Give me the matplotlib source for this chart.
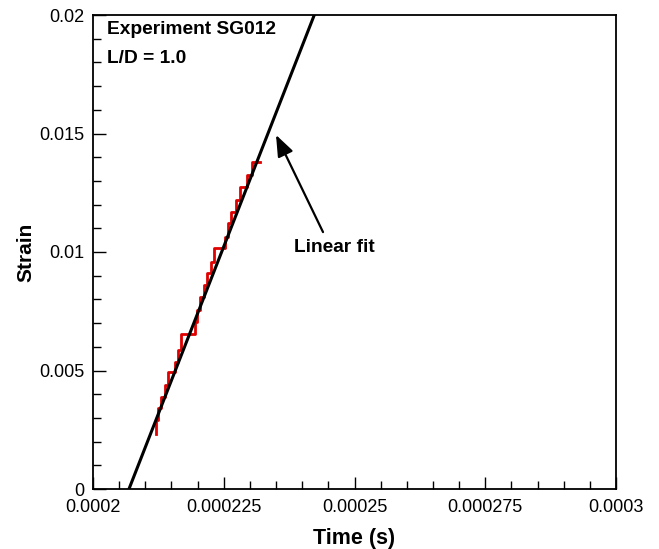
import matplotlib
matplotlib.use('Agg')
import matplotlib.pyplot as plt
from matplotlib.ticker import FixedLocator, FixedFormatter, MultipleLocator
import numpy as np

plt.rcParams['font.family'] = ['Liberation Sans', 'DejaVu Sans']

# measured strain (staircase from the gauge), time in seconds
step_time = [0.00021205, 0.00021205, 0.00021243, 0.00021300, 0.00021377,
             0.00021434, 0.00021568, 0.00021625, 0.00021683, 0.00021950,
             0.00021988, 0.00022046, 0.00022122, 0.00022180, 0.00022256,
             0.00022314, 0.00022524, 0.00022581, 0.00022639, 0.00022734,
             0.00022811, 0.00022944, 0.00023040, 0.00023193]
step_strain = [0.00232, 0.00291, 0.00342, 0.00388, 0.00439,
               0.00494, 0.00536, 0.00586, 0.00654, 0.00705,
               0.00755, 0.00810, 0.00861, 0.00911, 0.00958,
               0.01017, 0.01063, 0.01122, 0.01169, 0.01219,
               0.01274, 0.01325, 0.01380, 0.01380]

# linear fit: strain = slope * (t - t0)
fit_t0 = 2.0688e-4
fit_slope = 564.5

x_ticks = [0.0002, 0.000225, 0.00025, 0.000275, 0.0003]
x_labels = ['0.0002', '0.000225', '0.00025', '0.000275', '0.0003']
y_ticks = [0, 0.005, 0.01, 0.015, 0.02]
y_labels = ['0', '0.005', '0.01', '0.015', '0.02']

fig = plt.figure(figsize=(6.59, 5.49), dpi=100)
ax = fig.add_axes([93/659, 60/549, 523/659, 474/549])

ax.step(step_time, step_strain, where='post', color='#e00000', lw=2.0)

fit_s = np.array([0.0, 0.02])
fit_t = fit_t0 + fit_s / fit_slope
ax.plot(fit_t, fit_s, color='black', lw=2.2)

ax.set_xlim(0.0002, 0.0003)
ax.set_ylim(0, 0.02)

ax.xaxis.set_major_locator(FixedLocator(x_ticks))
ax.xaxis.set_major_formatter(FixedFormatter(x_labels))
ax.xaxis.set_minor_locator(MultipleLocator(0.000005))
ax.yaxis.set_major_locator(FixedLocator(y_ticks))
ax.yaxis.set_major_formatter(FixedFormatter(y_labels))
ax.yaxis.set_minor_locator(MultipleLocator(0.001))

ax.tick_params(which='both', direction='in', top=False, right=False,
               width=1.0, labelsize=13)
ax.tick_params(which='major', length=9)
ax.tick_params(which='minor', length=5.5)
ax.tick_params(axis='x', pad=7)
ax.tick_params(axis='y', pad=6)
for sp in ax.spines.values():
    sp.set_linewidth(1.3)

ax.set_xlabel('Time (s)', fontsize=15.5, fontweight='bold', labelpad=9)
ax.set_ylabel('Strain', fontsize=15, fontweight='bold', labelpad=3)

ax.text(0.027, 0.960, 'Experiment SG012', transform=ax.transAxes,
        fontsize=13.8, fontweight='bold', va='baseline', ha='left')
ax.text(0.027, 0.899, 'L/D = 1.0', transform=ax.transAxes,
        fontsize=13.8, fontweight='bold', va='baseline', ha='left')

ax.annotate('', xy=(2.3499e-4, 0.01494), xytext=(2.4398e-4, 0.01084),
            arrowprops=dict(arrowstyle='-|>,head_length=0.65,head_width=0.25',
                            mutation_scale=20, color='black', lw=1.6,
                            shrinkA=0, shrinkB=0))
ax.text(2.4608e-4, 0.0100, 'Linear fit', fontsize=13.8, fontweight='bold',
        ha='center', va='baseline')

fig.savefig('out.png', dpi=100)
